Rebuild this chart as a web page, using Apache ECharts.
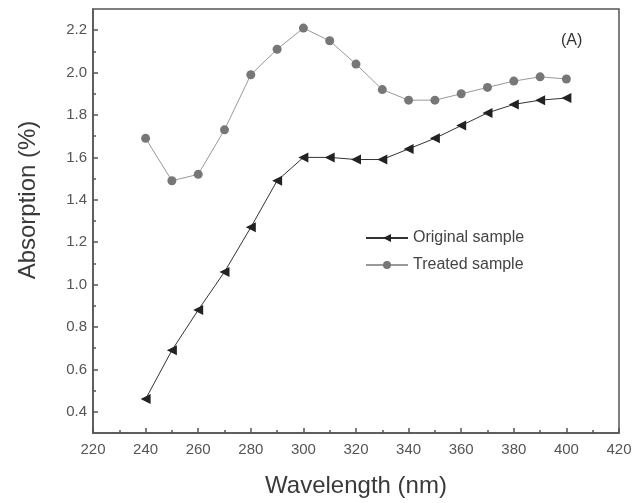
<!DOCTYPE html>
<html>
<head>
<meta charset="utf-8">
<script src="https://cdn.jsdelivr.net/npm/echarts@6/dist/echarts.min.js"></script>
<style>
html,body{margin:0;padding:0;background:#fff;}
#chart{width:643px;height:503px;}
</style>
</head>
<body>
<div id="chart"></div>
<script>
var wavelengths = [240,250,260,270,280,290,300,310,320,330,340,350,360,370,380,390,400];
var originalSample = [0.46,0.69,0.88,1.06,1.27,1.49,1.60,1.60,1.59,1.59,1.64,1.69,1.75,1.81,1.85,1.87,1.88];
var treatedSample = [1.69,1.49,1.52,1.73,1.99,2.11,2.21,2.15,2.04,1.92,1.87,1.87,1.90,1.93,1.96,1.98,1.97];
var xMajorTicks = [220,240,260,280,300,320,340,360,380,400,420];
var xMinorTicks = [230,250,270,290,310,330,350,370,390,410];
var yMajorTicks = [0.4,0.6,0.8,1.0,1.2,1.4,1.6,1.8,2.0,2.2];
var yMinorTicks = [0.5,0.7,0.9,1.1,1.3,1.5,1.7,1.9,2.1];

function pairs(xs, ys){ return xs.map(function(x,i){ return [x, ys[i]]; }); }

var chart = echarts.init(document.getElementById('chart'), null, {renderer:'canvas'});
var font = 'Liberation Sans, Arial, sans-serif';
var axisColor = '#555';
var option = {
  animation: false,
  backgroundColor: '#fff',
  grid: {left:93, top:9, right:24, bottom:70, show:true, borderColor:axisColor, borderWidth:1.5, backgroundColor:'transparent'},
  xAxis: [{
    type:'value', min:220, max:420,
    axisLine:{show:true, lineStyle:{color:axisColor, width:1.5}},
    axisTick:{show:true, inside:true, length:5, customValues:xMajorTicks, lineStyle:{color:axisColor, width:1.5}},
    axisLabel:{customValues:xMajorTicks, fontFamily:font, fontSize:15, color:'#555', margin:9},
    splitLine:{show:false}
  },{
    type:'value', min:220, max:420, position:'bottom',
    axisLine:{show:false},
    axisTick:{show:true, inside:true, length:3, customValues:xMinorTicks, lineStyle:{color:axisColor, width:1.5}},
    axisLabel:{show:false},
    splitLine:{show:false}
  }],
  yAxis: [{
    type:'value', min:0.3, max:2.3,
    axisLine:{show:true, lineStyle:{color:axisColor, width:1.5}},
    axisTick:{show:true, inside:true, length:5, customValues:yMajorTicks, lineStyle:{color:axisColor, width:1.5}},
    axisLabel:{customValues:yMajorTicks, fontFamily:font, fontSize:15, color:'#555', margin:6,
      formatter:function(v){ return v.toFixed(1); }},
    splitLine:{show:false}
  },{
    type:'value', min:0.3, max:2.3, position:'left',
    axisLine:{show:false},
    axisTick:{show:true, inside:true, length:3, customValues:yMinorTicks, lineStyle:{color:axisColor, width:1.5}},
    axisLabel:{show:false},
    splitLine:{show:false}
  }],
  legend: {
    orient:'vertical', left:365, top:230, padding:0, itemGap:11, itemWidth:42, itemHeight:10,
    symbolRotate:'inherit',
    textStyle:{fontFamily:font, fontSize:16, color:'#444'},
    data:['Original sample','Treated sample']
  },
  graphic: [{
    type:'text', left:561, top:33,
    style:{text:'(A)', font:'16px Liberation Sans, Arial, sans-serif', fill:'#333'}
  },{
    type:'text', x:356, y:486,
    style:{text:'Wavelength (nm)', font:'24px Liberation Sans, Arial, sans-serif', fill:'#3a3a3a', align:'center', verticalAlign:'middle'}
  },{
    type:'text', x:28, y:200, rotation:Math.PI/2,
    style:{text:'Absorption (%)', font:'24px Liberation Sans, Arial, sans-serif', fill:'#3a3a3a', align:'center', verticalAlign:'middle'}
  }],
  series: [{
    name:'Original sample', type:'line', data:pairs(wavelengths, originalSample),
    symbol:'triangle', symbolRotate:90, symbolSize:10, showAllSymbol:true,
    lineStyle:{color:'#333', width:1},
    itemStyle:{color:'#222'}
  },{
    name:'Treated sample', type:'line', data:pairs(wavelengths, treatedSample),
    symbol:'circle', symbolSize:9, showAllSymbol:true,
    lineStyle:{color:'#999', width:1},
    itemStyle:{color:'#777'}
  }]
};
chart.setOption(option);
</script>
</body>
</html>
